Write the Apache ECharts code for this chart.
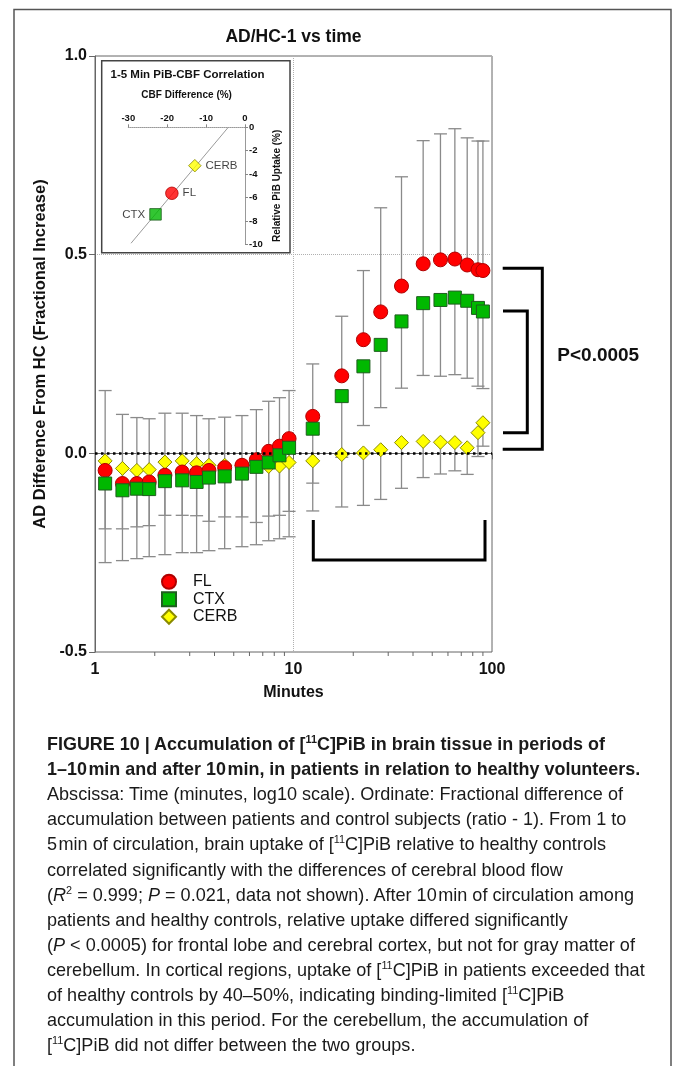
<!DOCTYPE html>
<html><head><meta charset="utf-8">
<script src="https://cdn.jsdelivr.net/npm/echarts@6/dist/echarts.min.js"></script>
<style>
html,body{margin:0;padding:0;background:#fff;}
#chart{position:absolute;left:0;top:0;width:673px;height:1066px;}
#caption{position:absolute;left:0;top:0;width:673px;height:1066px;pointer-events:none;font-family:"Liberation Sans",Arial,sans-serif;color:#1a1a1a;}
.ln{position:absolute;left:47px;white-space:nowrap;transform-origin:0 50%;font-size:19px;line-height:24px;}
.b{font-weight:bold;}
sup{font-size:0.6em;vertical-align:0.65em;line-height:0;}
</style></head><body>
<div id="chart"></div>
<div id="caption"></div>
<script>
// ---------------- data ----------------
const times = [1.125,1.375,1.625,1.875,2.25,2.75,3.25,3.75,4.5,5.5,6.5,7.5,8.5,9.5,12.5,17.5,22.5,27.5,35,45,55,65,75,85,90];
const FL    = [-0.043,-0.076,-0.076,-0.072,-0.055,-0.047,-0.049,-0.043,-0.036,-0.030,-0.016,0.005,0.018,0.037,0.093,0.195,0.286,0.356,0.421,0.477,0.487,0.489,0.474,0.462,0.460];
const FL_up = [0.201,0.174,0.166,0.159,0.156,0.148,0.144,0.130,0.127,0.125,0.126,0.126,0.122,0.121,0.132,0.150,0.174,0.262,0.275,0.310,0.317,0.328,0.320,0.324,0.326];
const CTX   = [-0.076,-0.093,-0.089,-0.090,-0.070,-0.068,-0.072,-0.061,-0.058,-0.051,-0.034,-0.023,-0.005,0.014,0.062,0.144,0.219,0.273,0.332,0.378,0.386,0.392,0.384,0.366,0.357];
const CTX_down = [0.199,0.177,0.176,0.170,0.185,0.182,0.178,0.184,0.182,0.184,0.196,0.197,0.210,0.224,0.137,0.154,0.149,0.158,0.168,0.182,0.192,0.194,0.195,0.197,0.194];
const CERB  = [-0.019,-0.038,-0.043,-0.041,-0.022,-0.019,-0.026,-0.030,-0.030,-0.030,-0.030,-0.033,-0.032,-0.023,-0.019,-0.003,0.001,0.009,0.027,0.030,0.028,0.027,0.014,0.052,0.077];
const CERB_down = [0.171,0.152,0.142,0.141,0.134,0.137,0.131,0.141,0.130,0.130,0.144,0.125,0.124,0.123,0.126,0.132,0.132,0.125,0.115,0.091,0.080,0.071,0.067,0.060,0.059];

const xTickLabels = ['1','10','100'];
const minorTicks = [2,3,4,5,6,7,8,9,20,30,40,50,60,70,80,90];

// inset: CBF difference (%) vs relative PiB uptake (%)
const insetNames = ['CERB','FL','CTX'];
const insetCBF = [-12.9,-18.8,-23.0];
const insetPiB = [-3.28,-5.64,-7.44];
const fitLine = [[-29.3,-9.91],[-4.3,0]];
const pValue = '0.0208';
const rSquare = '0.9989';

const captionLines = [
 'FIGURE 10 | Accumulation of [<sup>11</sup>C]PiB in brain tissue in periods of',
 '1–10&#8202;min and after 10&#8202;min, in patients in relation to healthy volunteers.',
 'Abscissa: Time (minutes, log10 scale). Ordinate: Fractional difference of',
 'accumulation between patients and control subjects (ratio - 1). From 1 to',
 '5&#8202;min of circulation, brain uptake of [<sup>11</sup>C]PiB relative to healthy controls',
 'correlated significantly with the differences of cerebral blood flow',
 '(<i>R</i><sup>2</sup> = 0.999; <i>P</i> = 0.021, data not shown). After 10&#8202;min of circulation among',
 'patients and healthy controls, relative uptake differed significantly',
 '(<i>P</i> &lt; 0.0005) for frontal lobe and cerebral cortex, but not for gray matter of',
 'cerebellum. In cortical regions, uptake of [<sup>11</sup>C]PiB in patients exceeded that',
 'of healthy controls by 40–50%, indicating binding-limited [<sup>11</sup>C]PiB',
 'accumulation in this period. For the cerebellum, the accumulation of',
 '[<sup>11</sup>C]PiB did not differ between the two groups.'
];

// ---------------- caption (HTML text) ----------------
const cap = document.getElementById('caption');
const capTop = 744, capStep = 25.1;
const lineEls = captionLines.map((h,i)=>{
  const d = document.createElement('div');
  d.className = 'ln' + (i<2 ? ' b' : '');
  d.innerHTML = h;
  d.style.top = (capTop + i*capStep - 12) + 'px';
  cap.appendChild(d);
  return d;
});
const sBold = 558 / lineEls[0].getBoundingClientRect().width;
const sBody = 576 / lineEls[2].getBoundingClientRect().width;
lineEls.forEach((d,i)=>{ d.style.transform = 'scaleX(' + (i<2 ? sBold : sBody) + ')'; });

// ---------------- chart ----------------
const FONT = '"Liberation Sans", Arial, sans-serif';
const Y_MIN = -0.5, Y_MAX = 1.0;
const chart = echarts.init(document.getElementById('chart'), null, {renderer:'canvas'});

function errRender(params, api){
  const t = api.value(0), y = api.value(1), up = api.value(2), dn = api.value(3);
  const hi = api.coord([t, y + up]), lo = api.coord([t, y - dn]);
  const cw = 6.5;
  const style = {stroke:'#8a8a8a', lineWidth:1.3};
  const ch = [{type:'line', shape:{x1:hi[0],y1:hi[1],x2:lo[0],y2:lo[1]}, style}];
  if (up > 0) ch.push({type:'line', shape:{x1:hi[0]-cw,y1:hi[1],x2:hi[0]+cw,y2:hi[1]}, style});
  if (dn > 0) ch.push({type:'line', shape:{x1:lo[0]-cw,y1:lo[1],x2:lo[0]+cw,y2:lo[1]}, style});
  return {type:'group', children:ch};
}
function tickRender(params, api){
  const p = api.coord([api.value(0), Y_MIN]);
  return {type:'line', shape:{x1:p[0],y1:p[1],x2:p[0],y2:p[1]+4}, style:{stroke:'#666', lineWidth:1}};
}

const styles = {
  FL:   {symbol:'circle',  size:14, color:'#ff0000', border:'#b00000'},
  CTX:  {symbol:'rect',    size:13, color:'#00b800', border:'#1e5e1e'},
  CERB: {symbol:'diamond', size:14, color:'#ffff00', border:'#8a8a00'}
};
function scatter(name, vals, z){
  const s = styles[name];
  return {type:'scatter', name, xAxisIndex:0, yAxisIndex:0, z,
    data: times.map((t,i)=>[t, vals[i]]),
    symbol:s.symbol, symbolSize:s.size,
    itemStyle:{color:s.color, borderColor:s.border, borderWidth:1, opacity:1}};
}
function errSeries(name, vals, up, dn, extra){
  return Object.assign({type:'custom', name:name+' err', xAxisIndex:0, yAxisIndex:0, z:2, clip:false,
    renderItem: errRender,
    encode:{x:0, y:1},
    data: times.map((t,i)=>[t, vals[i], up ? up[i] : 0, dn ? dn[i] : 0])}, extra||{});
}
function insetScatter(name, i){
  const s = styles[name];
  return {type:'scatter', name:'inset '+name, xAxisIndex:1, yAxisIndex:1, z:6,
    data:[[insetCBF[i], insetPiB[i]]],
    symbol:s.symbol, symbolSize: s.size - 1.5,
    itemStyle:{color:s.color, borderColor:s.border, borderWidth:1},
    label:{show:true, formatter:name, position: name==='CTX' ? 'left' : 'right', distance:4,
      fontFamily:FONT, fontSize:11.5, color:'#111'}};
}
function box(x, y, w, h, t1, t2){
  return {type:'group', x, y, z:20, children:[
    {type:'rect', shape:{x:0,y:0,width:w,height:h}, style:{fill:'#fff', stroke:'#333', lineWidth:1}},
    {type:'line', shape:{x1:0,y1:h/2,x2:w,y2:h/2}, style:{stroke:'#333', lineWidth:1}},
    {type:'text', x:4, y:h/4, style:{text:t1, font:'10.5px '+FONT, fill:'#111', verticalAlign:'middle'}},
    {type:'text', x:4, y:3*h/4, style:{text:t2, font:'10.5px '+FONT, fill:'#111', verticalAlign:'middle'}}
  ]};
}
const black3 = {stroke:'#000', lineWidth:3, fill:null};

const option = {
  animation:false,
  backgroundColor:'#ffffff',
  textStyle:{fontFamily:FONT},
  grid:[
    {left:95, top:56, width:397, height:596, show:true, borderColor:'#666', borderWidth:1, backgroundColor:'transparent'},
    {left:128.3, top:127.3, width:116.7, height:117}
  ],
  legend:{
    data:['FL','CTX','CERB'], orient:'vertical', left:156, top:568,
    itemWidth:14, itemHeight:14, itemGap:0,
    textStyle:{fontFamily:FONT, fontSize:16, lineHeight:17.5, color:'#111', padding:[0,0,0,12]},
    selectedMode:false
  },
  xAxis:[
    {type:'log', logBase:10, min:1, max:100, gridIndex:0,
     axisLine:{lineStyle:{color:'#666', width:1}},
     axisTick:{show:true, length:6, lineStyle:{color:'#666'}},
     axisLabel:{fontFamily:FONT, fontSize:16, fontWeight:'bold', color:'#111', margin:10,
       formatter:(v)=>{const s=String(Math.round(v)); return xTickLabels.indexOf(s)>=0 ? s : '';}},
     splitLine:{show:true, lineStyle:{type:'dotted', color:'#b0b0b0', width:1}},
     name:'Minutes', nameLocation:'middle', nameGap:33,
     nameTextStyle:{fontFamily:FONT, fontSize:16, fontWeight:'bold', color:'#111'}},
    {type:'value', gridIndex:1, position:'top', min:-30, max:0, interval:10, z:6,
     axisLine:{show:true, onZero:false, lineStyle:{color:'#999', type:'dotted', width:1}},
     axisTick:{show:true, length:3, lineStyle:{color:'#888'}},
     axisLabel:{fontFamily:FONT, fontSize:9.5, fontWeight:'bold', color:'#111', margin:4},
     splitLine:{show:false},
     name:'CBF Difference (%)', nameLocation:'middle', nameGap:27,
     nameTextStyle:{fontFamily:FONT, fontSize:10, fontWeight:'bold', color:'#111'}}
  ],
  yAxis:[
    {type:'value', gridIndex:0, min:Y_MIN, max:Y_MAX, interval:0.5,
     axisLine:{show:true, lineStyle:{color:'#666', width:1}},
     axisTick:{show:true, length:6, lineStyle:{color:'#666'}},
     axisLabel:{fontFamily:FONT, fontSize:16, fontWeight:'bold', color:'#111', margin:8,
       formatter:(v)=>v.toFixed(1)},
     splitLine:{show:true, lineStyle:{type:'dotted', color:'#b0b0b0', width:1}},
     name:'AD Difference From HC (Fractional Increase)', nameLocation:'middle', nameGap:41,
     nameTextStyle:{fontFamily:FONT, fontSize:16.5, fontWeight:'bold', color:'#111'}},
    {type:'value', gridIndex:1, position:'right', min:-10, max:0, interval:2, z:6,
     axisLine:{show:true, onZero:false, lineStyle:{color:'#999', width:1}},
     axisTick:{show:true, length:3, lineStyle:{color:'#888'}},
     axisLabel:{fontFamily:FONT, fontSize:9.5, fontWeight:'bold', color:'#111', margin:4},
     splitLine:{show:false},
     name:'Relative PiB Uptake (%)', nameLocation:'middle', nameGap:27, nameRotate:90,
     nameTextStyle:{fontFamily:FONT, fontSize:10, fontWeight:'bold', color:'#111'}}
  ],
  graphic:[
    // outer figure frame
    {type:'polyline', z:0, shape:{points:[[14,1066],[14,9.5],[671,9.5],[671,1066]]}, style:{stroke:'#555', lineWidth:1.5, fill:null}},
    // title
    {type:'text', x:293.5, y:37, z:10, style:{text:'AD/HC-1 vs time', font:'bold 17.5px '+FONT, fill:'#111', align:'center', verticalAlign:'middle'}},
    // inset frame
    {type:'rect', z:1, shape:{x:101.7, y:60.7, width:188.3, height:192}, style:{fill:'#fff', stroke:'#444', lineWidth:1.5}},
    {type:'text', x:110.5, y:75, z:10, style:{text:'1-5 Min PiB-CBF Correlation', font:'bold 11.5px '+FONT, fill:'#111', verticalAlign:'middle'}},
    box(130.7, 136, 58.6, 25, 'P value', pValue),
    box(170.7, 222.3, 66, 23.7, 'R square', rSquare),
    // significance brackets
    {type:'polyline', z:10, shape:{points:[[313.3,520],[313.3,560],[485,560],[485,520]]}, style:black3},
    {type:'polyline', z:10, shape:{points:[[502.7,268.3],[542.3,268.3],[542.3,449.3],[502.7,449.3]]}, style:black3},
    {type:'polyline', z:10, shape:{points:[[503,311],[527.3,311],[527.3,432.7],[503,432.7]]}, style:black3},
    {type:'text', x:557.3, y:356, z:10, style:{text:'P<0.0005', font:'bold 19px '+FONT, fill:'#111', verticalAlign:'middle'}}
  ],
  series:[
    {type:'custom', name:'minor ticks', xAxisIndex:0, yAxisIndex:0, z:2, clip:false, silent:true,
     renderItem:tickRender, encode:{x:0}, data:minorTicks.map(v=>[v])},
    errSeries('CERB', CERB, null, CERB_down, {
      markLine:{silent:true, symbol:'none', label:{show:false}, animation:false,
        lineStyle:{color:'#000', type:[2.5,3.5], width:2.5}, data:[{yAxis:0}]}}),
    errSeries('FL', FL, FL_up, null),
    errSeries('CTX', CTX, null, CTX_down),
    scatter('CERB', CERB, 3),
    scatter('FL', FL, 4),
    scatter('CTX', CTX, 5),
    {type:'line', name:'fit', xAxisIndex:1, yAxisIndex:1, z:5, data:fitLine, symbol:'none',
     lineStyle:{color:'#9a9a9a', width:1}, silent:true},
    insetScatter('CERB', 0),
    insetScatter('FL', 1),
    insetScatter('CTX', 2)
  ]
};
chart.setOption(option);
</script>
</body></html>
